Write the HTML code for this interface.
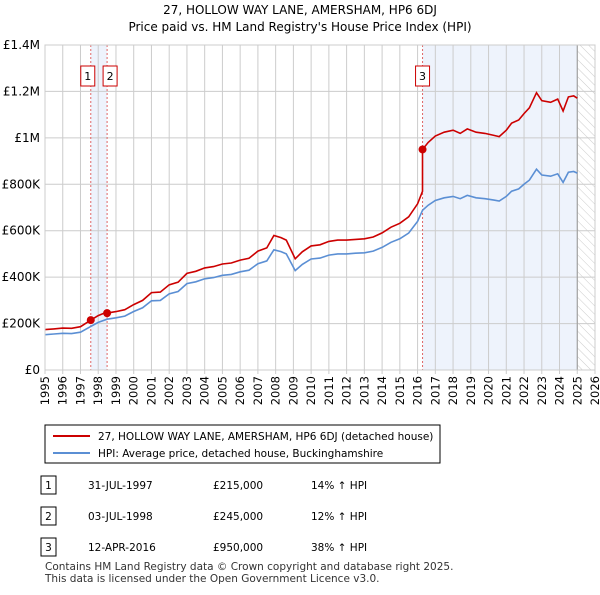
<!DOCTYPE html>
<html><head><meta charset="utf-8"><style>
body{margin:0;background:#fff;font-family:"Liberation Sans","DejaVu Sans",sans-serif;}
svg text{font-family:"DejaVu Sans","Liberation Sans",sans-serif;}
</style></head><body>
<svg id="c" width="600" height="590" xmlns="http://www.w3.org/2000/svg">
<defs><pattern id="hatch" width="6" height="6" patternUnits="userSpaceOnUse" patternTransform="rotate(-45)"><line x1="0" y1="0" x2="0" y2="6" stroke="#ccc" stroke-width="1"/></pattern></defs>
<text x="300" y="14" text-anchor="middle" font-size="12" fill="#000">27, HOLLOW WAY LANE, AMERSHAM, HP6 6DJ</text>
<text x="300" y="31" text-anchor="middle" font-size="12" fill="#000">Price paid vs. HM Land Registry's House Price Index (HPI)</text>
<g id="plot"></g>
<rect x="45" y="425" width="395" height="38" fill="#fff" stroke="#000" stroke-width="1"/>
<line x1="53" y1="436" x2="90" y2="436" stroke="#cc0000" stroke-width="2"/>
<text x="98" y="440" font-size="10.5">27, HOLLOW WAY LANE, AMERSHAM, HP6 6DJ (detached house)</text>
<line x1="53" y1="453" x2="90" y2="453" stroke="#5b8fd4" stroke-width="2"/>
<text x="98" y="457" font-size="10.5">HPI: Average price, detached house, Buckinghamshire</text>
<g id="tbl" font-size="10.5"></g>
<text x="45" y="570" font-size="10.5" fill="#333">Contains HM Land Registry data © Crown copyright and database right 2025.</text>
<text x="45" y="582" font-size="10.5" fill="#333">This data is licensed under the Open Government Licence v3.0.</text>
</svg>
<script>
const hpiYears=[1995,1995.5,1996,1996.5,1997,1997.58,1998,1998.5,1999,1999.5,2000,2000.5,2001,2001.5,2002,2002.5,2003,2003.5,2004,2004.5,2005,2005.5,2006,2006.5,2007,2007.5,2007.9,2008.3,2008.6,2009.1,2009.5,2010,2010.5,2011,2011.5,2012,2012.5,2013,2013.5,2014,2014.5,2015,2015.5,2016,2016.28,2016.6,2017,2017.5,2018,2018.4,2018.8,2019.3,2019.8,2020.3,2020.6,2021,2021.3,2021.7,2022,2022.3,2022.7,2023,2023.5,2023.9,2024.2,2024.5,2024.8,2025];
const hpiValues=[152,155,158,157,163,188,205,219,225,232,252,268,298,300,328,338,372,380,393,398,408,412,423,430,458,470,518,510,500,428,455,478,482,495,500,500,503,505,512,528,550,565,590,640,688,710,730,742,748,738,752,742,738,732,728,748,770,780,800,818,865,840,835,845,808,852,855,848];
const saleYears=[1997.58,1998.5,2016.28];
const salePrices=[215,245,950];
const saleLabels=["1","2","3"];
const saleDates=["31-JUL-1997","03-JUL-1998","12-APR-2016"];
const salePriceText=["£215,000","£245,000","£950,000"];
const saleHpiText=["14% ↑ HPI","12% ↑ HPI","38% ↑ HPI"];
const yTicks=[0,200,400,600,800,1000,1200,1400];
const yTickLabels=["£0","£200K","£400K","£600K","£800K","£1M","£1.2M","£1.4M"];
const xTicks=[1995,1996,1997,1998,1999,2000,2001,2002,2003,2004,2005,2006,2007,2008,2009,2010,2011,2012,2013,2014,2015,2016,2017,2018,2019,2020,2021,2022,2023,2024,2025,2026];
const L=45,R=595,T=45,B=370;
const x=v=>L+(v-1995)/(2026-1995)*(R-L);
const y=v=>B-v/1400*(B-T);
const NS="http://www.w3.org/2000/svg";
const g=document.getElementById('plot');
function mk(tag,attrs,parent){const e=document.createElementNS(NS,tag);for(const k in attrs)e.setAttribute(k,attrs[k]);(parent||g).appendChild(e);return e;}
function interp(t){for(let i=0;i<hpiYears.length-1;i++){if(t<=hpiYears[i+1]){const f=(t-hpiYears[i])/(hpiYears[i+1]-hpiYears[i]);return hpiValues[i]+f*(hpiValues[i+1]-hpiValues[i]);}}return hpiValues[hpiValues.length-1];}
let s1=mk('rect',{x:x(saleYears[0]),y:T,width:x(saleYears[1])-x(saleYears[0]),height:B-T,fill:'#eef3fc'});

let s2=mk('rect',{x:x(saleYears[2]),y:T,width:x(2025)-x(saleYears[2]),height:B-T,fill:'#eef3fc'});

let hz=mk('rect',{x:x(2025),y:T,width:R-x(2025),height:B-T,fill:'url(#hatch)'});

xTicks.forEach(t=>{const l=mk('line',{x1:x(t),x2:x(t),y1:T,y2:B+4,stroke:'#ccc','stroke-width':1});

const tx=mk('text',{x:0,y:0,'text-anchor':'end','font-size':11.5,transform:'translate('+(x(t)+4)+','+(B+6)+') rotate(-90)'});tx.textContent=t;
});
yTicks.forEach((t,i)=>{const l=mk('line',{x1:L,x2:R,y1:y(t),y2:y(t),stroke:'#ccc','stroke-width':1});

const tx=mk('text',{x:L-5,y:y(t)+4,'text-anchor':'end','font-size':12});tx.textContent=yTickLabels[i];
});
let vl=mk('line',{x1:x(2025),x2:x(2025),y1:T,y2:B,stroke:'#999','stroke-width':1});

saleYears.forEach((s,i)=>{const l=mk('line',{x1:x(s),x2:x(s),y1:T,y2:B,stroke:'#e06666','stroke-width':1,'stroke-dasharray':'2,2'});
});
let d=hpiYears.map((t,i)=>(i?'L':'M')+x(t).toFixed(1)+','+y(hpiValues[i]).toFixed(1)).join(' ');
let hp=mk('path',{d:d,fill:'none',stroke:'#5b8fd4','stroke-width':1.6});

function factor(t){let f=salePrices[0]/interp(saleYears[0]);for(let i=0;i<saleYears.length;i++){if(t>=saleYears[i])f=salePrices[i]/interp(saleYears[i]);}return f;}
let pts=[];hpiYears.forEach((t,i)=>{
 saleYears.forEach((s,j)=>{if(i>0&&hpiYears[i-1]<s&&t>=s){pts.push([s,interp(s)*(j?salePrices[j-1]/interp(saleYears[j-1]):salePrices[0]/interp(saleYears[0]))]);pts.push([s,salePrices[j]]);}});
 pts.push([t,hpiValues[i]*factor(t)]);});
let rp=mk('path',{d:pts.map((p,i)=>(i?'L':'M')+x(p[0]).toFixed(1)+','+y(p[1]).toFixed(1)).join(' '),fill:'none',stroke:'#cc0000','stroke-width':1.6});

saleYears.forEach((s,i)=>{const c=mk('circle',{cx:x(s),cy:y(salePrices[i]),r:4,fill:'#cc0000'});

const bx=x(s)+(i==0?-3:i==1?3:0)-7;
const r=mk('rect',{x:bx,y:66,width:14,height:20,fill:'#fff',stroke:'#cc0000','stroke-width':1});

const tx=mk('text',{x:bx+7,y:80,'text-anchor':'middle','font-size':11});tx.textContent=saleLabels[i];
});
let ax=mk('rect',{x:L,y:T,width:R-L,height:B-T,fill:'none',stroke:'#ccc','stroke-width':1});

const tb=document.getElementById('tbl');
saleLabels.forEach((lb,i)=>{const yy=487+i*31;
const r=mk('rect',{x:41,y:yy-11,width:15,height:18,fill:'#fff',stroke:'#000','stroke-width':1},tb);

const cols=[[48.5,lb,'middle'],[88,saleDates[i],'start'],[213,salePriceText[i],'start'],[311,saleHpiText[i],'start']];
cols.forEach(c=>{const t=mk('text',{x:c[0],y:yy+2,'text-anchor':c[2]},tb);t.textContent=c[1];
});});
</script>
</body></html>
